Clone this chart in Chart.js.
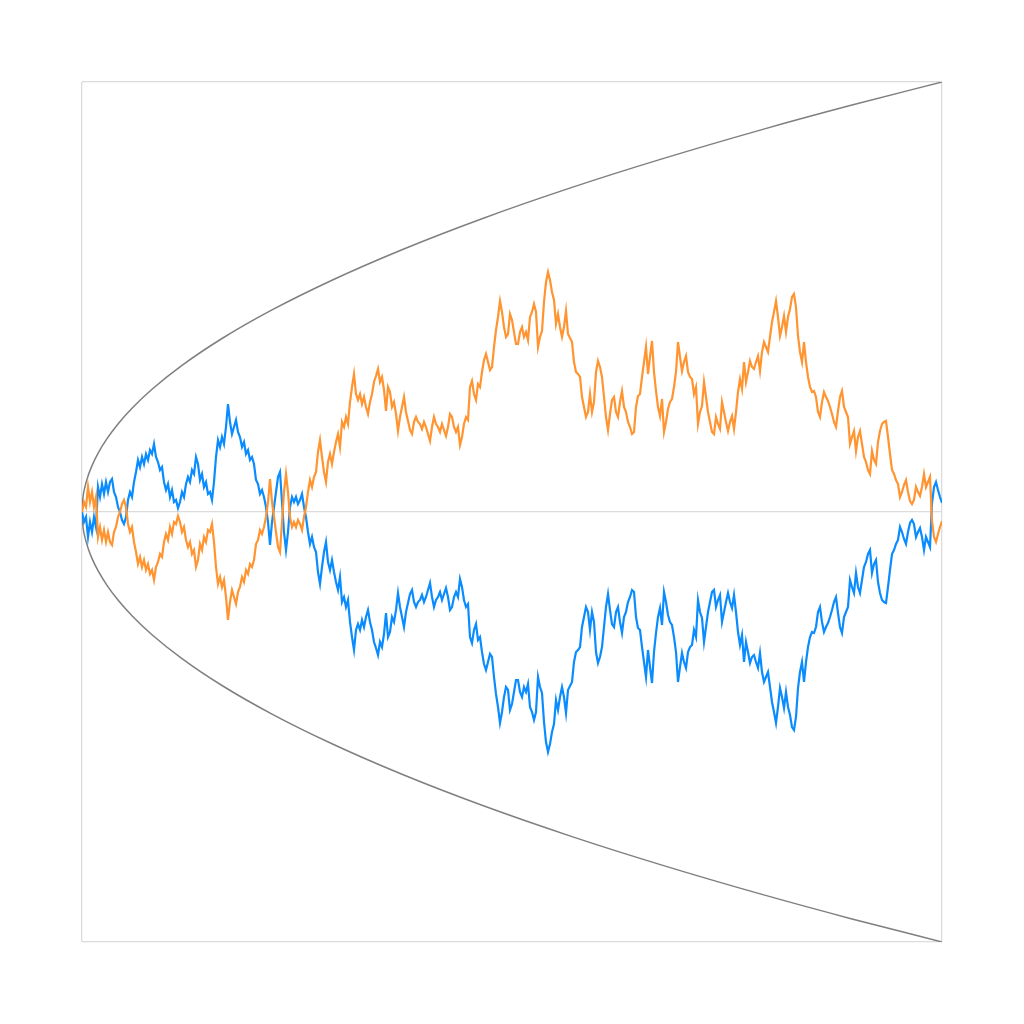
<!DOCTYPE html>
<html lang="en">
<head>
<meta charset="UTF-8">
<title>Random walk and sqrt envelope</title>
<script src="https://cdn.jsdelivr.net/npm/chart.js"></script>
<style>
    html, body { margin: 0; padding: 0; background: #fff; }
    #wrap { width: 1024px; height: 1024px; }
</style>
</head>
<body>
<div id="wrap"><canvas id="walkChart" width="1024" height="1024"></canvas></div>
<script>
// walk values, one per step (0..430)
const walkA = [
    0, -10, -5, -25, -10, -20, -5, -15, 25, 15, 28, 18, 30, 20, 30, 33, 20, 15, 5, 0,
    -8, -12, -5, 12, 20, 15, 30, 40, 52, 45, 55, 48, 58, 52, 62, 58, 68, 55, 50, 42,
    45, 30, 22, 28, 15, 22, 10, 12, 4, 10, 20, 15, 28, 35, 30, 42, 38, 55, 48, 32,
    38, 25, 30, 18, 20, 12, 30, 55, 72, 65, 75, 68, 85, 108, 90, 78, 85, 92, 80, 75,
    65, 70, 58, 62, 52, 55, 48, 32, 28, 18, 22, 15, 5, -10, -33, -10, 5, 20, 35, 40,
    10, -20, -38, -20, 5, 15, 10, 15, 8, 12, 18, 5, -5, -20, -32, -25, -35, -40, -60, -72,
    -55, -40, -30, -50, -58, -48, -60, -70, -78, -65, -90, -85, -95, -88, -110, -125, -138, -118, -112, -118,
    -108, -115, -105, -98, -110, -118, -130, -136, -143, -130, -135, -122, -101, -125, -120, -105, -110, -98, -81, -95,
    -105, -115, -100, -91, -82, -78, -90, -95, -90, -88, -83, -90, -85, -78, -71, -85, -95, -88, -85, -80,
    -88, -82, -76, -85, -98, -95, -85, -80, -85, -67, -75, -88, -95, -92, -125, -131, -118, -112, -128, -125,
    -140, -152, -158, -150, -142, -145, -165, -182, -195, -211, -200, -185, -175, -178, -198, -192, -180, -168, -168, -180,
    -185, -175, -180, -172, -195, -200, -208, -200, -165, -175, -181, -210, -230, -240, -232, -220, -212, -188, -198, -185,
    -175, -185, -201, -178, -174, -170, -150, -140, -138, -135, -115, -105, -95, -100, -118, -100, -110, -140, -151, -145,
    -135, -115, -95, -82, -98, -112, -115, -100, -95, -110, -121, -105, -100, -90, -85, -78, -80, -105, -116, -118,
    -135, -150, -165, -138, -155, -171, -140, -121, -105, -96, -113, -80, -90, -103, -110, -113, -125, -140, -170, -155,
    -141, -150, -156, -140, -135, -133, -118, -125, -88, -100, -106, -130, -115, -100, -90, -80, -78, -95, -88, -83,
    -110, -100, -90, -81, -90, -96, -83, -100, -120, -133, -123, -150, -130, -140, -151, -145, -143, -150, -156, -141,
    -160, -170, -165, -160, -175, -190, -200, -211, -195, -176, -185, -196, -180, -195, -203, -215, -218, -205, -176, -160,
    -150, -170, -150, -135, -125, -120, -121, -115, -100, -95, -110, -120, -115, -111, -105, -98, -90, -85, -101, -115,
    -121, -105, -100, -95, -68, -75, -81, -61, -75, -81, -68, -55, -50, -42, -38, -61, -52, -48, -70, -81,
    -88, -90, -91, -75, -58, -42, -38, -32, -28, -15, -20, -27, -32, -20, -11, -8, -12, -25, -20, -16,
    -25, -38, -25, -30, -35, 9, 25, 30, 22, 15, 9
];

const walkB = [
    0, 10, 5, 25, 10, 20, 5, 15, -25, -15, -28, -18, -30, -20, -30, -33, -20, -15, -5, 0,
    8, 12, 5, -12, -20, -15, -30, -40, -52, -45, -55, -48, -58, -52, -62, -58, -68, -55, -50, -42,
    -45, -30, -22, -28, -15, -22, -10, -12, -4, -10, -20, -15, -28, -35, -30, -42, -38, -55, -48, -32,
    -38, -25, -30, -18, -20, -12, -30, -55, -72, -65, -75, -68, -85, -108, -90, -78, -85, -92, -80, -75,
    -65, -70, -58, -62, -52, -55, -48, -32, -28, -18, -22, -15, -5, 10, 33, 10, -5, -20, -35, -40,
    -10, 20, 38, 20, -5, -15, -10, -15, -8, -12, -18, -5, 5, 20, 32, 25, 35, 40, 60, 72,
    55, 40, 30, 50, 58, 48, 60, 70, 78, 65, 90, 85, 95, 88, 110, 125, 138, 118, 112, 118,
    108, 115, 105, 98, 110, 118, 130, 136, 143, 130, 135, 122, 101, 125, 120, 105, 110, 98, 81, 95,
    105, 115, 100, 91, 82, 78, 90, 95, 90, 88, 83, 90, 85, 78, 71, 85, 95, 88, 85, 80,
    88, 82, 76, 85, 98, 95, 85, 80, 85, 67, 75, 88, 95, 92, 125, 131, 118, 112, 128, 125,
    140, 152, 158, 150, 142, 145, 165, 182, 195, 211, 200, 185, 175, 178, 198, 192, 180, 168, 168, 180,
    185, 175, 180, 172, 195, 200, 208, 200, 165, 175, 181, 210, 230, 240, 232, 220, 212, 188, 198, 185,
    175, 185, 201, 178, 174, 170, 150, 140, 138, 135, 115, 105, 95, 100, 118, 100, 110, 140, 151, 145,
    135, 115, 95, 82, 98, 112, 115, 100, 95, 110, 121, 105, 100, 90, 85, 78, 80, 105, 116, 118,
    135, 150, 165, 138, 155, 171, 140, 121, 105, 96, 113, 80, 90, 103, 110, 113, 125, 140, 170, 155,
    141, 150, 156, 140, 135, 133, 118, 125, 88, 100, 106, 130, 115, 100, 90, 80, 78, 95, 88, 83,
    110, 100, 90, 81, 90, 96, 83, 100, 120, 133, 123, 150, 130, 140, 151, 145, 143, 150, 156, 141,
    160, 170, 165, 160, 175, 190, 200, 211, 195, 176, 185, 196, 180, 195, 203, 215, 218, 205, 176, 160,
    150, 170, 150, 135, 125, 120, 121, 115, 100, 95, 110, 120, 115, 111, 105, 98, 90, 85, 101, 115,
    121, 105, 100, 95, 68, 75, 81, 61, 75, 81, 68, 55, 50, 42, 38, 61, 52, 48, 70, 81,
    88, 90, 91, 75, 58, 42, 38, 32, 28, 15, 20, 27, 32, 20, 11, 8, 12, 25, 20, 16,
    25, 38, 25, 30, 35, -9, -25, -30, -22, -15, -9
];

// envelope
const envSteps = [0, 0.5, 1.5, 3, 5, 8, 12.5, 18, 25, 35, 50, 70, 95, 125, 160, 200, 245, 290, 340, 385, 430];
const envUpper = [0, 14.7, 25.4, 35.9, 46.4, 58.7, 73.3, 88.0, 103.7, 122.7, 146.6, 173.5, 202.1, 231.8, 262.3, 293.3, 324.6, 353.1, 382.4, 406.9, 430.0];
const envLower = [0, -14.7, -25.4, -35.9, -46.4, -58.7, -73.3, -88.0, -103.7, -122.7, -146.6, -173.5, -202.1, -231.8, -262.3, -293.3, -324.6, -353.1, -382.4, -406.9, -430.0];

const xMax = 430;
const yLim = 430;

function toPoints(vals) {
    return vals.map((v, i) => ({ x: i, y: v }));
}
function envPoints(vals) {
    return vals.map((v, i) => ({ x: envSteps[i], y: v }));
}

const ctx = document.getElementById('walkChart').getContext('2d');
new Chart(ctx, {
    type: 'line',
    data: {
        datasets: [
            {
                data: envPoints(envUpper),
                borderColor: '#7f7f7f',
                borderWidth: 1.5,
                pointRadius: 0,
                cubicInterpolationMode: 'monotone',
                order: 3
            },
            {
                data: envPoints(envLower),
                borderColor: '#7f7f7f',
                borderWidth: 1.5,
                pointRadius: 0,
                cubicInterpolationMode: 'monotone',
                order: 3
            },
            {
                data: toPoints(walkA),
                borderColor: '#0a8cff',
                borderWidth: 2.2,
                pointRadius: 0,
                tension: 0,
                order: 2
            },
            {
                data: toPoints(walkB),
                borderColor: '#ff9430',
                borderWidth: 2.2,
                pointRadius: 0,
                tension: 0,
                order: 1
            }
        ]
    },
    options: {
        responsive: false,
        animation: false,
        events: [],
        layout: { padding: { left: 82, right: 82, top: 82, bottom: 82 } },
        plugins: {
            legend: { display: false },
            tooltip: { enabled: false }
        },
        scales: {
            x: {
                type: 'linear',
                min: 0,
                max: xMax,
                ticks: { display: false, stepSize: xMax },
                grid: { color: '#dcdcdc', lineWidth: 1.3, drawTicks: false },
                border: { display: false }
            },
            y: {
                type: 'linear',
                min: -yLim,
                max: yLim,
                ticks: { display: false, stepSize: yLim },
                grid: { color: '#dcdcdc', lineWidth: 1.3, drawTicks: false },
                border: { display: false }
            }
        }
    }
});
</script>
</body>
</html>
